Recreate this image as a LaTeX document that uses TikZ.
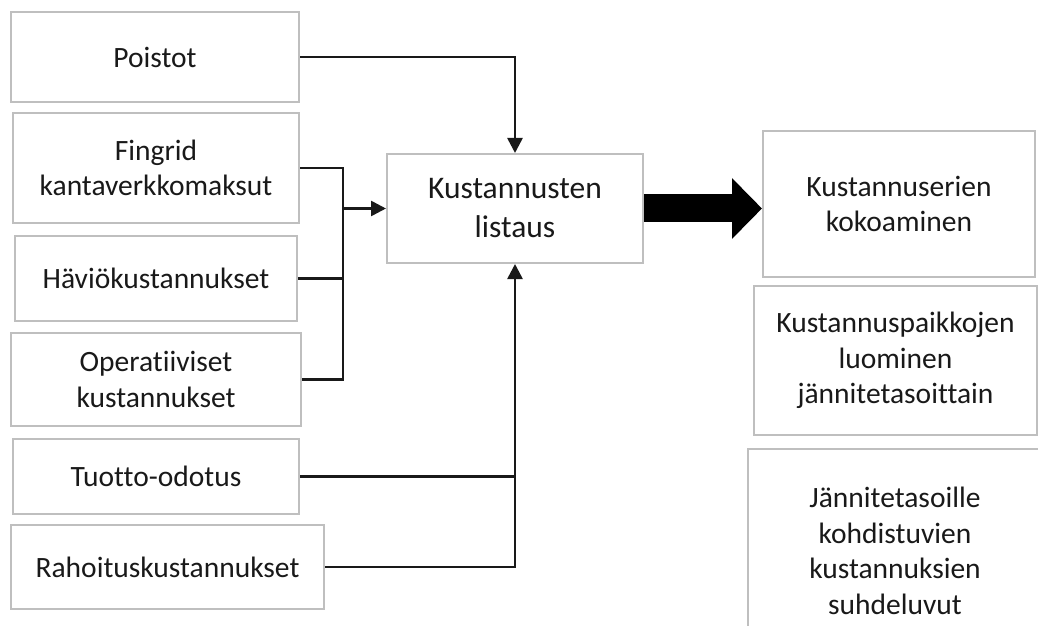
\documentclass[tikz,border=0pt]{standalone}
\usepackage{fontspec}
\setmainfont{Carlito}[Ligatures=NoCommon]
\usetikzlibrary{arrows.meta}
\definecolor{boxgray}{RGB}{191,191,191}
\definecolor{ink}{RGB}{25,25,25}
\begin{document}
\begin{tikzpicture}[x=1bp,y=-1bp,
  box/.style={draw=boxgray, line width=2bp, fill=white, inner sep=0pt, align=center,
    text=ink, font=\fontsize{29.5bp}{35.5bp}\selectfont},
  mainbox/.style={box, font=\fontsize{31.5bp}{39bp}\selectfont},
  conn/.style={draw=ink, line width=2.6bp},
  arr/.style={conn, -{Triangle[length=15bp,width=15bp]}},
  bigarrow/.style={draw=black, line width=28bp, -{Triangle[length=30bp,width=59bp]}}]
\useasboundingbox (0,0) rectangle (1038,626);
\clip (0,0) rectangle (1038,626);

% input cost items
\node[box, minimum width=288bp, minimum height=90bp]  (poistot)  at (155,57)    {Poistot};
\node[box, minimum width=286bp, minimum height=110bp] (fingrid)  at (156,168)   {Fingrid\\kantaverkkomaksut};
\node[box, minimum width=282bp, minimum height=85bp]  (havio)    at (156,278.5) {Häviökustannukset};
\node[box, minimum width=290bp, minimum height=93bp]  (oper)     at (156,379.5) {Operatiiviset\\kustannukset};
\node[box, minimum width=286bp, minimum height=75bp]  (tuotto)   at (156,476.5) {Tuotto-odotus};
\node[box, minimum width=313bp, minimum height=84bp]  (rahoitus) at (167.5,567) {Rahoituskustannukset};

% listing step
\node[mainbox, minimum width=256bp, minimum height=109bp] (lista) at (515,208.5) {Kustannusten\\listaus};

% output steps
\node[box, minimum width=272bp, minimum height=146bp] (kokoa)  at (899,204)   {Kustannuserien\\kokoaminen};
\node[box, minimum width=283bp, minimum height=149bp] (paikat) at (895.5,360.5) {Kustannuspaikkojen\\luominen\\jännitetasoittain};
\node[box, minimum width=294bp, minimum height=204bp] (suhde)  at (895,551)   {Jännitetasoille\\kohdistuvien\\kustannuksien\\suhdeluvut};

% connectors
\coordinate (merge) at (343,208.5);
\draw[arr] (poistot.east) -| (lista.north);
\draw[conn] (fingrid.east) -| (merge) |- (oper.east);
\draw[conn] (havio.east) -- (havio.east -| merge);
\draw[arr] (merge) -- (lista.west);
\draw[arr] (rahoitus.east) -| (lista.south);
\draw[conn] (tuotto.east) -- (tuotto.east -| lista.south);

% main flow arrow
\draw[bigarrow] (lista.east) -- (lista.east -| kokoa.west);
\end{tikzpicture}
\end{document}
